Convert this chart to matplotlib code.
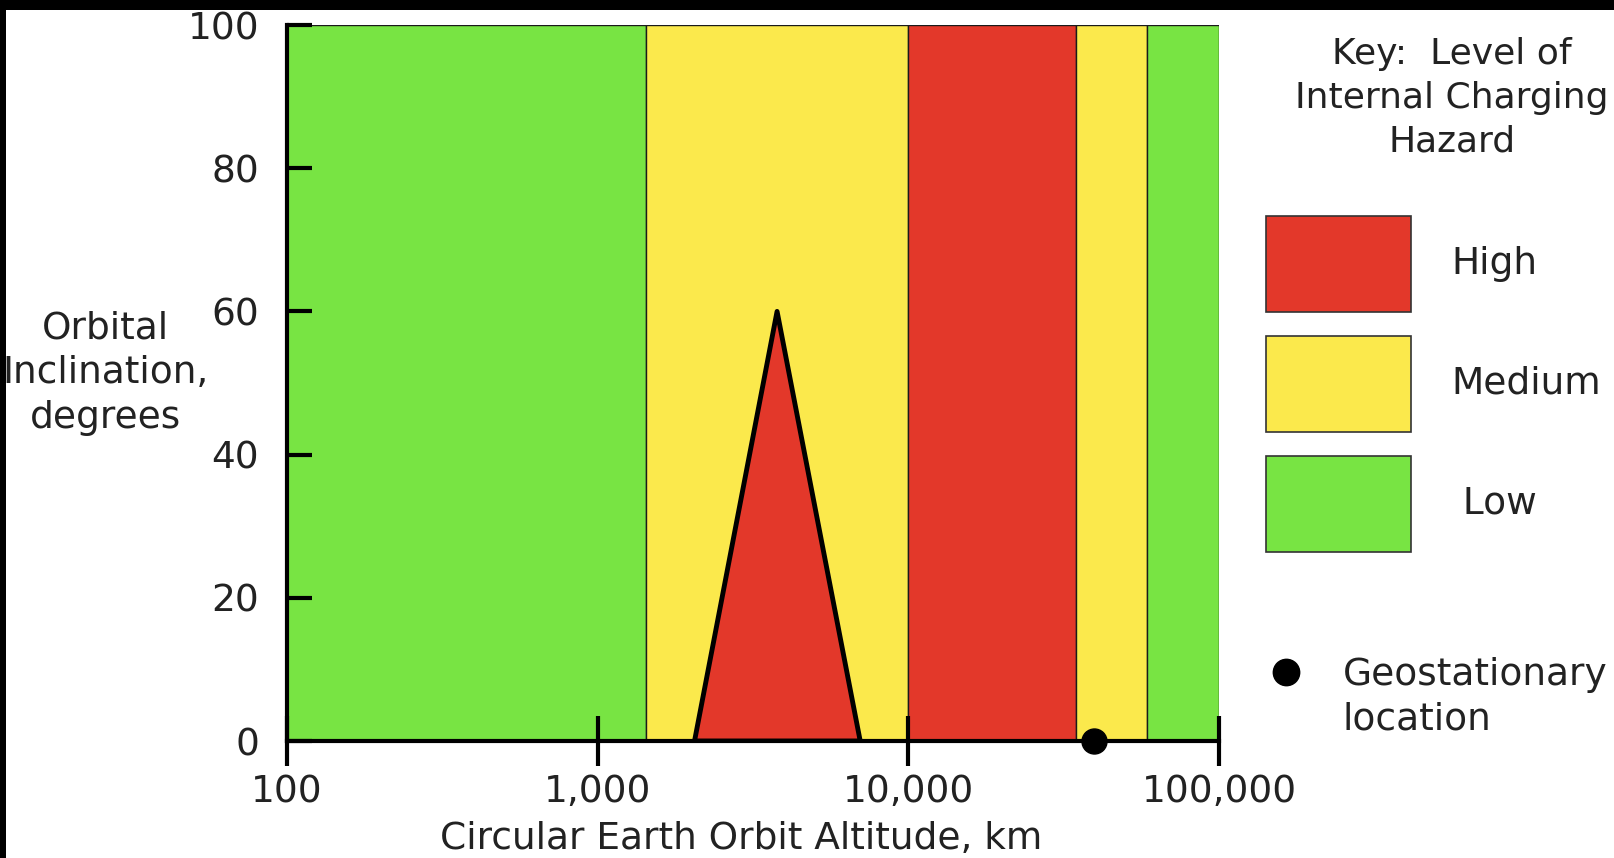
import matplotlib
matplotlib.use("Agg")
import matplotlib.pyplot as plt
from matplotlib.patches import Rectangle, Polygon
import numpy as np

# --- data: hazard bands by altitude (km) ---
band_edges = [100, 1430, 10000, 34600, 58600, 100000]
band_levels = ["Low", "Medium", "High", "Medium", "Low"]
# red triangle inside the medium band (altitude, inclination)
tri_alt = [2050, 3780, 7000]
tri_inc = [0, 60, 0]
geo_alt = 39500
geo_inc = 0

x_ticks = [100, 1000, 10000, 100000]
x_ticklabels = ["100", "1,000", "10,000", "100,000"]
y_ticks = [0, 20, 40, 60, 80, 100]

colors = {"High": "#E3382A", "Medium": "#FBE94C", "Low": "#78E443"}

plt.rcParams["font.family"] = ["DejaVu Sans"]
FS = 27
TXT = "#222222"

W, H = 1614, 858
fig = plt.figure(figsize=(W / 100, H / 100), dpi=100)
fig.patch.set_facecolor("white")
ax = fig.add_axes([287 / W, 1 - 741 / H, (1219 - 287) / W, (741 - 25) / H])

ax.set_xscale("log")
ax.set_xlim(100, 100000)
ax.set_ylim(0, 100)

# bands
for lo, hi, lvl in zip(band_edges[:-1], band_edges[1:], band_levels):
    ax.axvspan(lo, hi, ymin=0, ymax=1, facecolor=colors[lvl],
               edgecolor="#1a1a1a", linewidth=1.0, zorder=1)

# triangle
ax.add_patch(Polygon(np.column_stack([tri_alt, tri_inc]), closed=True,
                     facecolor=colors["High"], edgecolor="black",
                     linewidth=3.5, joinstyle="round", zorder=2))

# geostationary point
ax.plot([geo_alt], [geo_inc], "o", color="black", markersize=18,
        clip_on=False, zorder=5)

# spines / ticks
for s in ["top", "right"]:
    ax.spines[s].set_visible(False)
for s in ["left", "bottom"]:
    ax.spines[s].set_linewidth(3)
    ax.spines[s].set_zorder(4)

ax.set_xticks(x_ticks)
ax.set_xticklabels(x_ticklabels)
ax.xaxis.set_minor_locator(matplotlib.ticker.NullLocator())
ax.set_yticks(y_ticks)
ax.tick_params(axis="x", direction="inout", length=36, width=3,
               labelsize=FS, pad=6, colors="black", labelcolor=TXT)
ax.tick_params(axis="y", direction="in", length=18, width=3,
               labelsize=FS, pad=20, labelcolor=TXT)

fig.text(741 / W, 1 - 839 / H, "Circular Earth Orbit Altitude, km",
         ha="center", va="center", fontsize=FS, color=TXT)
fig.text(105 / W, 1 - 373 / H, "Orbital\nInclination,\ndegrees",
         ha="center", va="center", fontsize=FS, color=TXT,
         linespacing=1.32)

# key
fig.text(1452 / W, 1 - 98 / H, "Key:  Level of\nInternal Charging\nHazard",
         ha="center", va="center", fontsize=26, color=TXT,
         linespacing=1.37)
key_boxes = [("High", 216, 312, "High"), ("Medium", 336, 432, "Medium"),
             ("Low", 456, 552, " Low")]
for lvl, top, bot, lab in key_boxes:
    fig.add_artist(Rectangle((1266 / W, 1 - bot / H), (1411 - 1266) / W,
                             (bot - top) / H, transform=fig.transFigure,
                             facecolor=colors[lvl], edgecolor="#333333",
                             linewidth=1.2))
    fig.text(1451 / W, 1 - (top + bot) / 2 / H, lab, ha="left", va="center",
             fontsize=FS, color=TXT)

fig.add_artist(matplotlib.lines.Line2D([1286 / W], [1 - 672 / H], marker="o",
                                       markersize=19, color="black",
                                       transform=fig.transFigure))
fig.text(1343 / W, 1 - 697 / H, "Geostationary\nlocation", ha="left",
         va="center", fontsize=FS, color=TXT, linespacing=1.3)

# black borders from the original scan
fig.add_artist(Rectangle((0, 1 - 10 / H), 1, 10 / H, transform=fig.transFigure,
                         facecolor="black", edgecolor="none", zorder=10))
fig.add_artist(Rectangle((0, 0), 6 / W, 1, transform=fig.transFigure,
                         facecolor="black", edgecolor="none", zorder=10))

fig.savefig("out.png", dpi=100)
